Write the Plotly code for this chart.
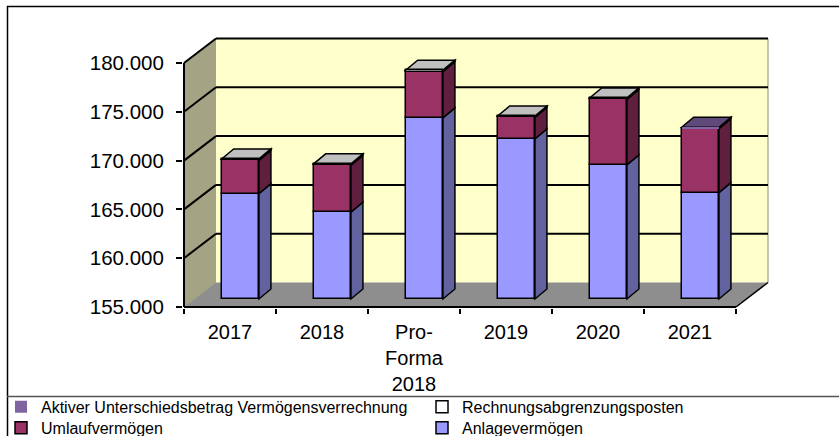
import plotly.graph_objects as go

# ---------------- data ----------------
categories = ["2017", "2018", "Pro-<br>Forma<br>2018", "2019", "2020", "2021"]
anlage = [165800, 163900, 173550, 171400, 168750, 165900]
umlauf = [3400, 4800, 4750, 2200, 6700, 6550]
rap = [150, 150, 150, 150, 150, 0]
aktiver = [0, 0, 0, 0, 0, 150]
y_ticks = [155000, 160000, 165000, 170000, 175000, 180000]

# ---------------- geometry (pixel layout of the 3D box) ----------------
W, H = 839, 436
AX_X = 184          # front value axis x (px)
AX_Y0 = 307         # px of lowest tick
AX_Y1 = 63          # px of highest tick
CAT_PX = 92         # px per category along the front
WALL = (32, 24.5)   # depth offset of back wall (px right, px up)
BARPLANE = (10.3, 8)  # front face of bars behind axis plane
BARDEPTH = (12, 10)   # depth of the bars
BAR_W = 0.405

Y0, Y1 = y_ticks[0], y_ticks[-1]
UNIT_PX = (AX_Y0 - AX_Y1) / (Y1 - Y0)


def dxc(px):
    return px / CAT_PX


def dyv(px):
    return px / UNIT_PX


plot_left = AX_X - 1
plot_bottom = AX_Y0 + 1
plot_top = int(AX_Y1 - WALL[1] - 2)
plot_right = W

x0 = -0.5 - dxc(AX_X - plot_left)
x_range = [x0, x0 + dxc(plot_right - plot_left)]
yb = Y0 - dyv(plot_bottom - AX_Y0)
y_range = [yb, yb + dyv(plot_bottom - plot_top)]


def px2paper_x(px):
    return (px - plot_left) / (plot_right - plot_left)


def px2paper_y(py):
    return (plot_bottom - py) / (plot_bottom - plot_top)


FONT = "Arial, Liberation Sans, sans-serif"

c_front = {"anlage": "#9999FF", "umlauf": "#993366", "rap": "#FFFFFF", "aktiver": "#8064A2"}
c_side = {"anlage": "#62629E", "umlauf": "#611F3F", "rap": "#A0A0A0", "aktiver": "#4F3D66"}
c_top = {"anlage": "#BDBDFF", "umlauf": "#B86B8C", "rap": "#C0C0C0", "aktiver": "#604A7B"}

fig = go.Figure()

# (key, name, values, legend rank, legend id)
series = [
    ("anlage", "Anlagevermögen", anlage, 2, "legend2"),
    ("umlauf", "Umlaufvermögen", umlauf, 1, "legend2"),
    ("rap", "Rechnungsabgrenzungsposten", rap, 2, "legend"),
    ("aktiver", "Aktiver Unterschiedsbetrag Vermögensverrechnung", aktiver, 1, "legend"),
]

shift_x = dxc(BARPLANE[0])
shift_y = dyv(BARPLANE[1])
ddx = dxc(BARDEPTH[0])
ddy = dyv(BARDEPTH[1])

bases = [Y0] * len(categories)
segments = []
for key, name, vals, rank, leg in series:
    base_plot = []
    heights = []
    for i, v in enumerate(vals):
        val = v - Y0 if key == "anlage" else v
        base_plot.append(bases[i] + shift_y)
        heights.append(val)
        segments.append((key, i, bases[i] + shift_y, bases[i] + val + shift_y))
        bases[i] = bases[i] + val
    fig.add_trace(go.Bar(
        x=categories, y=heights, base=base_plot, name=name,
        offset=shift_x - BAR_W / 2, width=BAR_W,
        marker=dict(color=c_front[key],
                    line=dict(color="#000000", width=0 if key == "aktiver" else 1.5)),
        legend=leg, legendrank=rank, showlegend=True,
        hovertemplate=name + ": %{y}<extra></extra>",
    ))

shapes = []
xl = -0.5
xr = -0.5 + len(categories)
wdx = dxc(WALL[0])
wdy = dyv(WALL[1])

# left side wall
shapes.append(dict(type="path", xref="x", yref="y", layer="below",
                   path=f"M{xl},{Y0} L{xl},{Y1} L{xl + wdx},{Y1 + wdy} L{xl + wdx},{Y0 + wdy} Z",
                   fillcolor="#A4A484", line=dict(width=0)))
# back wall
shapes.append(dict(type="rect", xref="x", yref="y", layer="below",
                   x0=xl + wdx, x1=xr + wdx, y0=Y0 + wdy, y1=Y1 + wdy,
                   fillcolor="#FFFFCC", line=dict(width=0)))
# floor
shapes.append(dict(type="path", xref="x", yref="y", layer="below",
                   path=f"M{xl},{Y0} L{xl + wdx},{Y0 + wdy} L{xr + wdx},{Y0 + wdy} L{xr},{Y0} Z",
                   fillcolor="#8E8E8E", line=dict(width=0)))
# right edge of back wall
shapes.append(dict(type="line", xref="x", yref="y", layer="below",
                   x0=xr + wdx, x1=xr + wdx, y0=Y0 + wdy, y1=Y1 + wdy,
                   line=dict(color="#B0B0A0", width=1.5)))
# floor left/back diagonal edge
shapes.append(dict(type="line", xref="x", yref="y", layer="below",
                   x0=xl, y0=Y0, x1=xl + wdx, y1=Y0 + wdy,
                   line=dict(color="#9A9A8A", width=1)))
# floor right edge
shapes.append(dict(type="line", xref="x", yref="y", layer="below",
                   x0=xr, y0=Y0, x1=xr + wdx, y1=Y0 + wdy,
                   line=dict(color="#000000", width=1.5)))
# gridlines
for v in y_ticks[1:]:
    shapes.append(dict(type="line", xref="x", yref="y", layer="below",
                       x0=xl + wdx, x1=xr + wdx, y0=v + wdy, y1=v + wdy,
                       line=dict(color="#000000", width=2)))
    shapes.append(dict(type="line", xref="x", yref="y", layer="below",
                       x0=xl, x1=xl + wdx, y0=v, y1=v + wdy,
                       line=dict(color="#000000", width=2)))

# bar side faces
for key, i, b, t in segments:
    if t - b <= 0:
        continue
    xR = i + shift_x + BAR_W / 2
    shapes.append(dict(type="path", xref="x", yref="y", layer="below",
                       path=f"M{xR},{b} L{xR},{t} L{xR + ddx},{t + ddy} L{xR + ddx},{b + ddy} Z",
                       fillcolor=c_side[key], line=dict(color="#000000", width=1.5)))
# bar top faces
for i in range(len(categories)):
    top_key = None
    for key, _, vals, _r, _l in series:
        if vals[i] > 0:
            top_key = key
    T = bases[i] + shift_y
    xL = i + shift_x - BAR_W / 2
    xR = xL + BAR_W
    shapes.append(dict(type="path", xref="x", yref="y", layer="below",
                       path=f"M{xL},{T} L{xR},{T} L{xR + ddx},{T + ddy} L{xL + ddx},{T + ddy} Z",
                       fillcolor=c_top[top_key], line=dict(color="#000000", width=1.5)))

# front axis lines
shapes.append(dict(type="line", xref="x", yref="y", layer="above",
                   x0=xl, x1=xl, y0=Y0, y1=Y1, line=dict(color="#000000", width=2)))
shapes.append(dict(type="line", xref="x", yref="y", layer="above",
                   x0=xl, x1=xr, y0=Y0, y1=Y0, line=dict(color="#000000", width=2)))

# chart border and legend separator (paper coords)
shapes.append(dict(type="line", xref="paper", yref="paper",
                   x0=px2paper_x(7.5), x1=px2paper_x(7.5), y0=px2paper_y(6), y1=px2paper_y(H + 2),
                   line=dict(color="#000000", width=1.5)))
shapes.append(dict(type="line", xref="paper", yref="paper",
                   x0=px2paper_x(7), x1=px2paper_x(W + 2), y0=px2paper_y(6.5), y1=px2paper_y(6.5),
                   line=dict(color="#000000", width=1.5)))
shapes.append(dict(type="line", xref="paper", yref="paper",
                   x0=px2paper_x(7), x1=px2paper_x(W + 2), y0=px2paper_y(396.5), y1=px2paper_y(396.5),
                   line=dict(color="#555555", width=1.5)))

legend_common = dict(
    orientation="h", xanchor="left", yanchor="top",
    font=dict(family=FONT, size=16, color="#000000"),
    entrywidth=376, entrywidthmode="pixels",
    bgcolor="rgba(0,0,0,0)", traceorder="normal", itemclick=False, itemdoubleclick=False,
)

fig.update_layout(
    width=W, height=H,
    margin=dict(l=plot_left, r=W - plot_right, t=plot_top, b=H - plot_bottom, pad=0,
                autoexpand=False),
    paper_bgcolor="#FFFFFF", plot_bgcolor="#FFFFFF",
    barmode="overlay", bargap=0,
    separators=",.",
    font=dict(family=FONT, color="#000000", size=20),
    shapes=shapes,
    showlegend=True,
    legend=dict(x=px2paper_x(1), y=px2paper_y(389.8), **legend_common),
    legend2=dict(x=px2paper_x(1), y=px2paper_y(410.8), **legend_common),
    xaxis=dict(
        type="category", categoryorder="array", categoryarray=categories,
        range=x_range, showgrid=False, zeroline=False, showline=False,
        ticks="outside", ticklen=5, tickcolor="#000000", tickwidth=1.5,
        tickson="boundaries", tickangle=0, automargin=False, ticklabelstandoff=10,
        tickfont=dict(family=FONT, size=20, color="#000000"),
        fixedrange=True,
    ),
    yaxis=dict(
        range=y_range, tickvals=y_ticks, tickformat=",d",
        showgrid=False, zeroline=False, showline=False, automargin=False,
        ticks="outside", ticklen=6, tickcolor="#000000", tickwidth=1.5,
        ticklabelstandoff=8,
        tickfont=dict(family=FONT, size=20.5, color="#000000"),
        fixedrange=True,
    ),
)

fig.write_html(
    "out.html",
    config={"displayModeBar": False},
    post_script="document.body.style.margin='0';document.body.style.overflow='hidden';",
)
